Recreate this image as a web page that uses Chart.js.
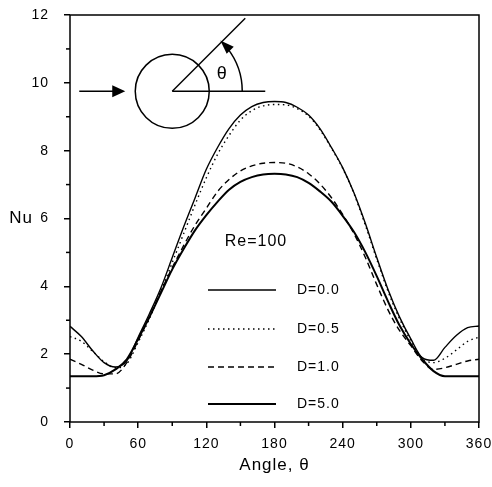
<!DOCTYPE html>
<html>
<head>
<meta charset="utf-8">
<script src="https://cdn.jsdelivr.net/npm/chart.js@4/dist/chart.umd.min.js"></script>
<style>
  html, body { margin: 0; padding: 0; background: #fff; }
  #contenedor { width: 492px; height: 487px; }
</style>
</head>
<body>
<div id="contenedor"><canvas id="grafica"></canvas></div>
<script>
// Datos (Nu vs ángulo, Re=100)
const angulos = [0,10,20,30,40,50,60,70,80,90,100,110,120,130,140,150,160,170,180,
                 190,200,210,220,230,240,250,260,270,280,290,300,310,320,330,340,350,360];
const nuD00 = [2.82,2.52,2.1,1.75,1.62,1.8,2.5,3.2,3.95,4.85,5.75,6.6,7.45,8.1,8.65,9.05,9.3,9.42,9.45,
               9.42,9.28,9.05,8.65,8.1,7.5,6.75,5.85,4.85,3.9,3.1,2.45,1.9,1.82,2.2,2.55,2.78,2.83];
const nuD05 = [2.52,2.38,2.08,1.78,1.6,1.72,2.35,3.05,3.85,4.7,5.55,6.4,7.2,7.9,8.45,8.9,9.18,9.32,9.36,
               9.35,9.24,9.02,8.62,8.08,7.48,6.73,5.8,4.8,3.85,3.05,2.4,1.88,1.75,1.88,2.12,2.38,2.5];
const nuD10 = [1.85,1.7,1.53,1.42,1.42,1.75,2.4,3.1,3.85,4.55,5.2,5.8,6.3,6.8,7.15,7.4,7.55,7.63,7.65,
               7.63,7.52,7.32,7.02,6.62,6.12,5.55,4.85,4.05,3.3,2.7,2.25,1.8,1.55,1.6,1.7,1.8,1.85];
const nuD50 = [1.35,1.35,1.35,1.38,1.55,1.85,2.45,3.1,3.8,4.5,5.1,5.65,6.1,6.5,6.85,7.08,7.22,7.3,7.32,
               7.3,7.22,7.05,6.8,6.5,6.08,5.6,5.0,4.3,3.55,2.85,2.3,1.85,1.5,1.35,1.35,1.35,1.35];
const etiquetasSerie = ['D=0.0', 'D=0.5', 'D=1.0', 'D=5.0'];
const ticksX = [0, 60, 120, 180, 240, 300, 360];
const ticksY = [0, 2, 4, 6, 8, 10, 12];

const fuente = '"Liberation Sans", Arial, sans-serif';

function puntos(valores) {
  return angulos.map((a, i) => ({ x: a, y: valores[i] }));
}

function sinRelleno(s) {
  s.paddingLeft = 0; s.paddingRight = 0; s.paddingTop = 0; s.paddingBottom = 0;
}

// Espaciado de letras parecido al original
const espaciado = {
  id: 'espaciado',
  beforeDraw(chart) { chart.ctx.letterSpacing = '1px'; }
};

// Dibuja marco, ticks menores, textos, esquema del cilindro y leyenda
const extras = {
  id: 'extras',
  afterDraw(chart) {
    const ctx = chart.ctx;
    const area = chart.chartArea;
    const sx = chart.scales.x, sy = chart.scales.y;
    ctx.save();
    ctx.strokeStyle = '#000';
    ctx.fillStyle = '#000';
    ctx.lineWidth = 1.5;
    ctx.strokeRect(area.left, area.top, area.right - area.left, area.bottom - area.top);

    // ticks menores
    for (let v = 1; v < 12; v += 2) {
      const y = sy.getPixelForValue(v);
      ctx.beginPath(); ctx.moveTo(area.left - 4, y); ctx.lineTo(area.left, y); ctx.stroke();
    }
    for (let v = 30; v < 360; v += 60) {
      const x = sx.getPixelForValue(v);
      ctx.beginPath(); ctx.moveTo(x, area.bottom); ctx.lineTo(x, area.bottom + 4); ctx.stroke();
    }

    // títulos de ejes
    ctx.letterSpacing = '1px';
    ctx.font = '17px ' + fuente;
    ctx.textAlign = 'center';
    ctx.textBaseline = 'middle';
    ctx.fillText('Nu', 21, sy.getPixelForValue(6));
    ctx.fillText('Angle, θ', sx.getPixelForValue(180), 465);

    // esquema: cilindro, flujo y ángulo
    const cx = sx.getPixelForValue(90), cy = sy.getPixelForValue(9.75);
    ctx.lineWidth = 1.5;
    ctx.beginPath(); ctx.arc(cx, cy, 37, 0, Math.PI * 2); ctx.stroke();
    ctx.beginPath(); ctx.moveTo(cx, cy); ctx.lineTo(cx + 93, cy); ctx.stroke();
    ctx.beginPath(); ctx.moveTo(cx, cy); ctx.lineTo(cx + 73, cy - 73); ctx.stroke();
    ctx.beginPath(); ctx.arc(cx, cy, 70, 0, -Math.PI / 4 + 0.12, true); ctx.stroke();
    // punta de flecha del arco
    const ang = -Math.PI / 4;
    const px = cx + 70 * Math.cos(ang), py = cy + 70 * Math.sin(ang);
    const dx = -Math.SQRT1_2, dy = -Math.SQRT1_2;
    ctx.beginPath();
    ctx.moveTo(px + 2 * dx, py + 2 * dy);
    ctx.lineTo(px - 12 * dx + 5 * dy, py - 12 * dy - 5 * dx);
    ctx.lineTo(px - 12 * dx - 5 * dy, py - 12 * dy + 5 * dx);
    ctx.closePath(); ctx.fill();
    // flecha de entrada
    ctx.beginPath(); ctx.moveTo(cx - 93, cy); ctx.lineTo(cx - 55, cy); ctx.stroke();
    ctx.beginPath();
    ctx.moveTo(cx - 47, cy); ctx.lineTo(cx - 60, cy - 6); ctx.lineTo(cx - 60, cy + 6);
    ctx.closePath(); ctx.fill();
    ctx.font = '18px ' + fuente;
    ctx.fillText('θ', cx + 50, cy - 17);

    // leyenda
    ctx.font = '16px ' + fuente;
    ctx.fillText('Re=100', 256, 242);
    const filas = [290, 329, 367, 404];
    ctx.font = '14px ' + fuente;
    ctx.textAlign = 'left';
    chart.data.datasets.forEach((ds, i) => {
      ctx.lineWidth = ds.borderWidth;
      ctx.setLineDash(ds.borderDash || []);
      ctx.beginPath(); ctx.moveTo(208, filas[i]); ctx.lineTo(276, filas[i]); ctx.stroke();
      ctx.setLineDash([]);
      ctx.fillText(ds.label, 297, filas[i]);
    });
    ctx.restore();
  }
};

const estilos = [
  { borderWidth: 1.4, borderDash: [] },
  { borderWidth: 1.4, borderDash: [1.5, 3.5] },
  { borderWidth: 1.4, borderDash: [6, 4] },
  { borderWidth: 2, borderDash: [] }
];
const series = [nuD00, nuD05, nuD10, nuD50];

new Chart(document.getElementById('grafica'), {
  type: 'line',
  data: {
    datasets: series.map((s, i) => ({
      label: etiquetasSerie[i],
      data: puntos(s),
      borderColor: '#000',
      borderWidth: estilos[i].borderWidth,
      borderDash: estilos[i].borderDash,
      pointRadius: 0,
      cubicInterpolationMode: 'monotone',
      fill: false
    }))
  },
  options: {
    responsive: true,
    maintainAspectRatio: false,
    animation: false,
    layout: { padding: { top: 15, right: 13, left: 0, bottom: 0 } },
    plugins: { legend: { display: false }, tooltip: { enabled: false } },
    scales: {
      x: {
        type: 'linear',
        min: 0, max: 360,
        afterBuildTicks: (s) => { s.ticks = ticksX.map(v => ({ value: v })); },
        afterFit: (s) => { s.height = 65; sinRelleno(s); },
        grid: { drawOnChartArea: false, tickLength: 6, color: '#000', lineWidth: 1.5 },
        border: { display: false },
        ticks: { color: '#000', font: { family: fuente, size: 14 }, padding: 8, maxRotation: 0 }
      },
      y: {
        min: 0, max: 12,
        afterBuildTicks: (s) => { s.ticks = ticksY.map(v => ({ value: v })); },
        afterFit: (s) => { s.width = 70; sinRelleno(s); },
        grid: { drawOnChartArea: false, tickLength: 6, color: '#000', lineWidth: 1.5 },
        border: { display: false },
        ticks: { color: '#000', font: { family: fuente, size: 14 }, padding: 15 }
      }
    }
  },
  plugins: [espaciado, extras]
});
</script>
</body>
</html>
